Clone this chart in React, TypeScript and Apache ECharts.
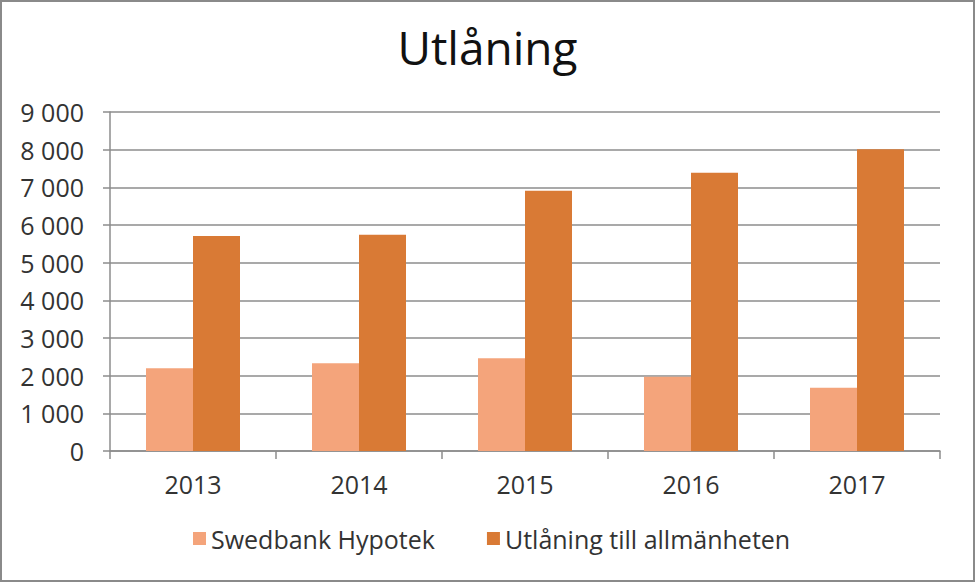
import React, { useEffect, useRef } from "react";
import * as echarts from "echarts";

const categories = ["2013", "2014", "2015", "2016", "2017"];
const hypotek = [2200, 2330, 2460, 1970, 1680];
const allmanheten = [5710, 5740, 6910, 7390, 8010];
const seriesNames = ["Swedbank Hypotek", "Utlåning till allmänheten"];
const titleText = "Utlåning";

const FONT = "'Open Sans', 'DejaVu Sans', sans-serif";

export default function App() {
  const ref = useRef<HTMLDivElement>(null);
  useEffect(() => {
    document.body.style.margin = "0";
    const chart = echarts.init(ref.current!, null, { renderer: "svg" });
    chart.setOption({
      animation: false,
      backgroundColor: "#ffffff",
      title: {
        text: titleText,
        left: "center",
        top: 17,
        textStyle: { fontFamily: FONT, fontSize: 46, fontWeight: "normal", color: "#111111" },
      },
      legend: {
        bottom: 24,
        left: 186,
        itemWidth: 13,
        itemHeight: 13,
        itemGap: 52,
        icon: "rect",
        textStyle: { fontFamily: FONT, fontSize: 25, color: "#333333" },
        data: seriesNames,
      },
      grid: { left: 108, right: 33, top: 110, bottom: 129, containLabel: false },
      xAxis: {
        type: "category",
        data: categories,
        axisLine: { show: true, lineStyle: { color: "#8c8c8c", width: 1.5 } },
        axisTick: { show: true, interval: 0, length: 8, lineStyle: { color: "#8c8c8c", width: 1.5 } },
        axisLabel: { fontFamily: FONT, fontSize: 25, color: "#333333", margin: 20 },
      },
      yAxis: {
        type: "value",
        min: 0,
        max: 9000,
        interval: 1000,
        axisLine: { show: true, lineStyle: { color: "#8c8c8c", width: 1.5 } },
        axisTick: { show: true, length: 7, lineStyle: { color: "#8c8c8c", width: 1.5 } },
        splitLine: { show: true, lineStyle: { color: "#8c8c8c", width: 1.5 } },
        axisLabel: {
          fontFamily: FONT,
          fontSize: 25,
          color: "#333333",
          margin: 26,
          formatter: (v: number) => {
            const s = String(v);
            return s.length > 3 ? s.slice(0, s.length - 3) + " " + s.slice(-3) : s;
          },
        },
      },
      series: [
        {
          name: seriesNames[0],
          type: "bar",
          data: hypotek,
          barWidth: 47,
          barGap: "0%",
          itemStyle: { color: "#F4A47B" },
        },
        {
          name: seriesNames[1],
          type: "bar",
          data: allmanheten,
          barWidth: 47,
          barGap: "0%",
          itemStyle: { color: "#D97A35" },
        },
      ],
    });
    return () => chart.dispose();
  }, []);
  return (
    <div
      style={{
        position: "fixed",
        left: 0,
        top: 0,
        width: 975,
        height: 582,
        boxSizing: "border-box",
        border: "2px solid #8a8a8a",
        background: "#fff",
      }}
    >
      <div ref={ref} style={{ width: 971, height: 578 }} />
    </div>
  );
}
